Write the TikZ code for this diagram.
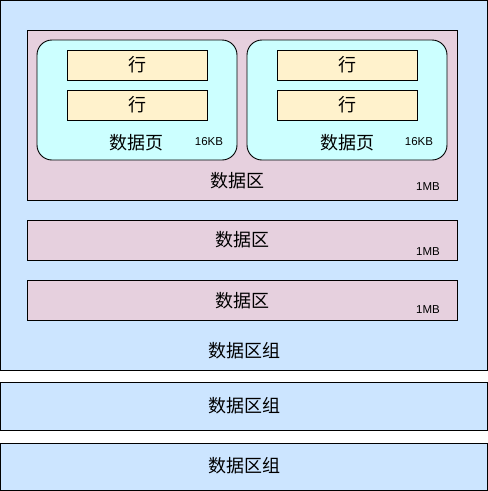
\documentclass[tikz,border=0pt]{standalone}
\usepackage{fontspec}
\setmainfont{Liberation Sans}
\newfontfamily\cjk{Noto Sans CJK SC}
\definecolor{groupblue}{HTML}{CCE5FF}
\definecolor{areapink}{HTML}{E6D0DE}
\definecolor{pagecyan}{HTML}{CCFFFF}
\definecolor{rowyellow}{HTML}{FFF2CC}
\begin{document}
\begin{tikzpicture}[x=1pt,y=-1pt,
  box/.style={draw,line width=0.9pt,inner sep=0pt},
  group/.style={box,fill=groupblue,minimum width=487pt},
  area/.style={box,fill=areapink,minimum width=430pt},
  page/.style={box,fill=pagecyan,rounded corners=15pt,minimum width=200pt,minimum height=120pt},
  row/.style={box,fill=rowyellow,minimum width=140pt,minimum height=30pt,font=\cjk\fontsize{18}{18}\selectfont},
  big/.style={font=\cjk\fontsize{18}{18}\selectfont},
  small/.style={font=\fontsize{11.5}{11.5}\selectfont}]
\useasboundingbox (0,0) rectangle (488,491);
\node [group,minimum height=370pt] (g1) at (244,185.5) {};
\node [group,minimum height=48pt] (g2) at (244,406) {};
\node [group,minimum height=47pt] (g3) at (244,466.5) {};
\node [area,minimum height=170pt] (a1) at (242,115) {};
\node [area,minimum height=40pt] (a2) at (242,240) {};
\node [area,minimum height=40pt] (a3) at (242,300) {};
\node [page] (p1) at (137,100) {};
\node [page] (p2) at (347,100) {};
\node [row] (r1) at (137,65) {行};
\node [row] (r2) at (137,105) {行};
\node [row] (r3) at (347,65) {行};
\node [row] (r4) at (347,105) {行};
\node [big] (t1) at (137,143) {数据页};
\node [small] (s1) at (209,142) {16KB};
\node [big] (t2) at (347,143) {数据页};
\node [small] (s2) at (419,142) {16KB};
\node [big] (t3) at (237,181) {数据区};
\node [small] (s3) at (428,186.5) {1MB};
\node [big] (t4) at (242,240) {数据区};
\node [small] (s4) at (428,251.5) {1MB};
\node [big] (t5) at (242,301) {数据区};
\node [small] (s5) at (428,310) {1MB};
\node [big] (t6) at (244,351) {数据区组};
\node [big] (t7) at (244,406) {数据区组};
\node [big] (t8) at (244,466) {数据区组};
\end{tikzpicture}
\end{document}
